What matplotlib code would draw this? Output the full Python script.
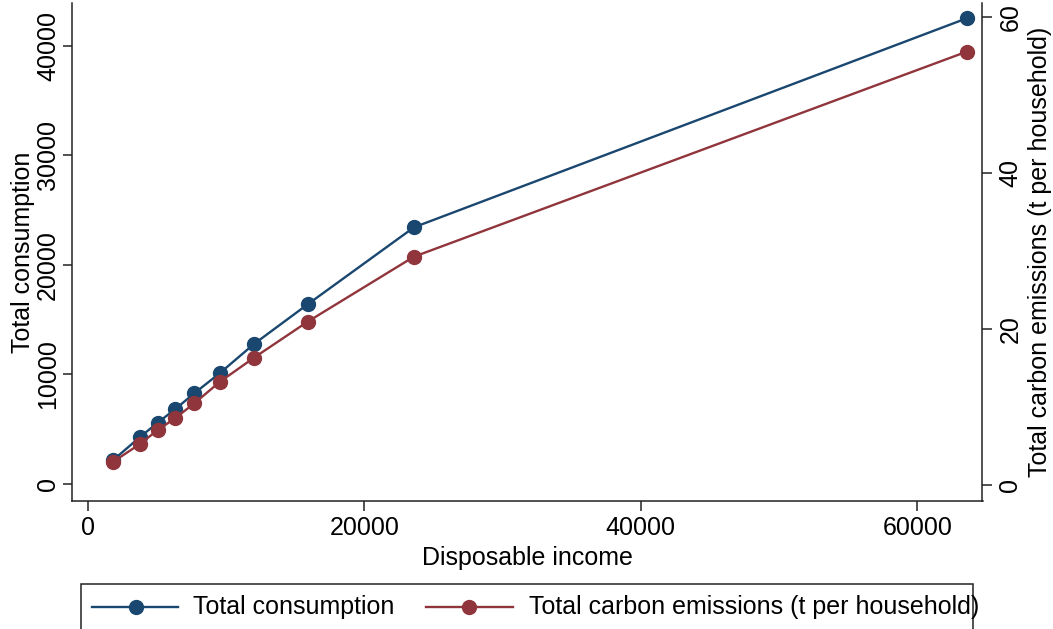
import matplotlib
matplotlib.use('Agg')
import matplotlib.pyplot as plt
from matplotlib.lines import Line2D
from matplotlib.patches import Rectangle

plt.rcParams['font.family'] = ['Liberation Sans', 'DejaVu Sans']

### Datos ###
income = [1851, 3782, 5063, 6314, 7710, 9567, 12027, 15911, 23599, 63572]
consumption = [2190, 4289, 5594, 6817, 8277, 10130, 12776, 16399, 23426, 42499]
emissions = [2.99, 5.26, 7.05, 8.55, 10.47, 13.24, 16.32, 20.94, 29.27, 55.55]

x_ticks = [0, 20000, 40000, 60000]
left_ticks = [0, 10000, 20000, 30000, 40000]
right_ticks = [0, 20, 40, 60]

lbl_cons = 'Total consumption'
lbl_emis = 'Total carbon emissions (t per household)'

navy = '#1a476f'
maroon = '#90353b'
axc = '#222222'
fs = 18

W, H = 1053, 629
fig = plt.figure(figsize=(W/100, H/100), dpi=100)
ax = fig.add_axes([72/W, 1 - 500.7/H, (982.5-72)/W, (500.7-3.3)/H])
ax2 = ax.twinx()

ax.plot(income, consumption, '-o', color=navy, lw=1.7, ms=10, zorder=3)
ax2.plot(income, emissions, '-o', color=maroon, lw=1.7, ms=10, zorder=3)

ax.set_xlim(-1135, 64713)
ax.set_ylim(-1524, 43868)
ax2.set_ylim(-2.01, 61.75)

ax.set_xticks(x_ticks)
ax.set_yticks(left_ticks)
ax2.set_yticks(right_ticks)

for a in (ax, ax2):
    a.spines['top'].set_visible(False)
    for s in a.spines.values():
        s.set_color(axc)
        s.set_linewidth(1.1)
ax.spines['right'].set_visible(False)
ax2.spines['left'].set_visible(False)
ax2.spines['bottom'].set_visible(False)

ax.tick_params(axis='x', length=7, width=1.1, color=axc, labelsize=fs, pad=4)
ax.tick_params(axis='y', length=6.5, width=1.1, color=axc, labelsize=fs, pad=2, labelrotation=90)
ax2.tick_params(axis='y', length=7.5, width=1.1, color=axc, labelsize=fs, pad=4, labelrotation=90)
for t in ax.get_yticklabels() + ax2.get_yticklabels():
    t.set_verticalalignment('center')

ax.set_xlabel('Disposable income', fontsize=fs)
ax.xaxis.set_label_coords(0.5, -0.091)
ax.set_ylabel(lbl_cons, fontsize=fs, va='center')
ax.yaxis.set_label_coords((23-72)/910.5, 0.5)
ax2.set_ylabel(lbl_emis, fontsize=fs, va='center')
ax2.yaxis.set_label_coords((1040-72)/910.5, 0.5)

### Leyenda dibujada a mano (el recuadro se sale por abajo) ###
fig.add_artist(Rectangle((81/W, -0.1), (973-81)/W, (H-584)/H + 0.1,
                         transform=fig.transFigure, fill=False, ec=axc, lw=1.1))
ly = 1 - 607/H
for x0, x1, xm, xt, c, txt in [(92, 178, 136, 193, navy, lbl_cons),
                                (426, 513, 469, 529, maroon, lbl_emis)]:
    fig.add_artist(Line2D([x0/W, x1/W], [ly, ly], transform=fig.transFigure, color=c, lw=1.7))
    fig.add_artist(Line2D([xm/W], [ly], transform=fig.transFigure, color=c, marker='o', ms=10))
    fig.text(xt/W, ly, txt, fontsize=fs, va='center', ha='left')

fig.savefig('out.png', dpi=100)
